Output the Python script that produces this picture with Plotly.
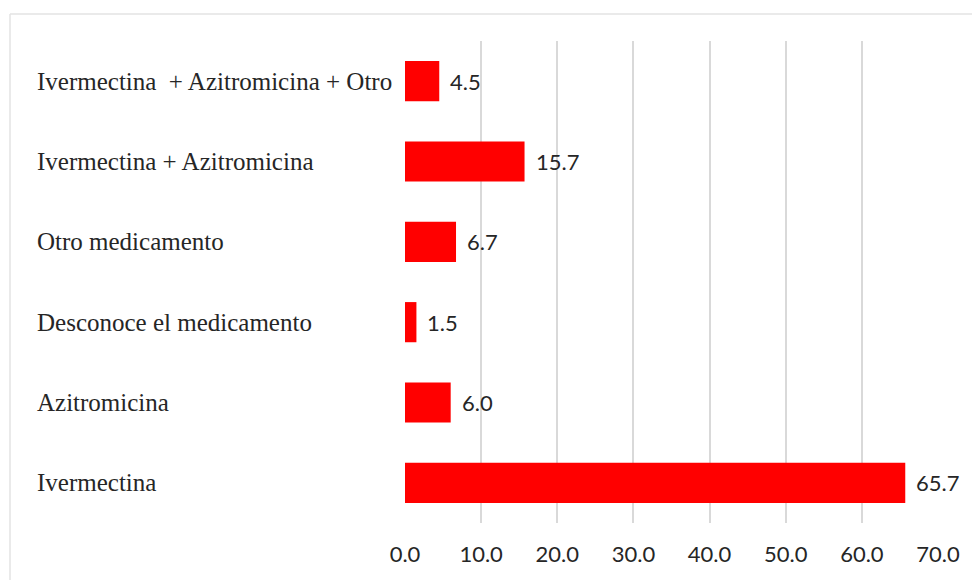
import plotly.graph_objects as go

# Medication categories (top to bottom as drawn) and their percentages
categories = [
    "Ivermectina  + Azitromicina + Otro",
    "Ivermectina + Azitromicina",
    "Otro medicamento",
    "Desconoce el medicamento",
    "Azitromicina",
    "Ivermectina",
]
values = [4.5, 15.7, 6.7, 1.5, 6.0, 65.7]
tick_values = [0, 10, 20, 30, 40, 50, 60, 70]
tick_labels = ["0.0", "10.0", "20.0", "30.0", "40.0", "50.0", "60.0", "70.0"]

W, H = 972, 580
L, R, T, B = 405, 34, 41, 57
plot_w = W - L - R
plot_h = H - T - B

def px_to_paper_x(px):
    return (px - L) / plot_w

def px_to_paper_y(py):
    return (H - B - py) / plot_h

fig = go.Figure()
fig.add_trace(go.Bar(
    x=values,
    y=categories,
    orientation="h",
    marker=dict(color="#ff0000", line=dict(width=0)),
    width=0.5,
    hoverinfo="skip",
))

# Value labels to the right of each bar
for cat, v in zip(categories, values):
    fig.add_annotation(
        x=v, xref="x", xanchor="left", xshift=9,
        y=cat, yref="y", yanchor="middle",
        text=f"{v:.1f}", showarrow=False,
        font=dict(family="Lato", size=22, color="#262626"),
    )

# Left-aligned category labels
for cat in categories:
    fig.add_annotation(
        x=px_to_paper_x(35), xref="paper", xanchor="left",
        y=cat, yref="y", yanchor="middle",
        text=cat, showarrow=False,
        font=dict(family="Liberation Serif", size=25, color="#262626"),
    )

# Chart frame (top and left edges visible)
fig.add_shape(type="line", xref="paper", yref="paper",
              x0=px_to_paper_x(10), x1=px_to_paper_x(990),
              y0=px_to_paper_y(14), y1=px_to_paper_y(14),
              line=dict(color="#e3e3e3", width=1.5))
fig.add_shape(type="line", xref="paper", yref="paper",
              x0=px_to_paper_x(10), x1=px_to_paper_x(10),
              y0=px_to_paper_y(14), y1=px_to_paper_y(600),
              line=dict(color="#e3e3e3", width=1.5))

fig.update_layout(
    width=W, height=H,
    margin=dict(l=L, r=R, t=T, b=B),
    paper_bgcolor="white",
    plot_bgcolor="white",
    showlegend=False,
    xaxis=dict(
        range=[0, 70],
        tickvals=tick_values,
        ticktext=tick_labels,
        showgrid=True,
        gridcolor="#d9d9d9",
        gridwidth=1.5,
        zeroline=False,
        showline=False,
        ticks="",
        tickfont=dict(family="Lato", size=22, color="#262626"),
        ticklabelstandoff=16,
    ),
    yaxis=dict(
        categoryorder="array",
        categoryarray=categories[::-1],
        showticklabels=False,
        showgrid=False,
        zeroline=False,
        showline=False,
        ticks="",
    ),
)

fig.write_html("out.html")
